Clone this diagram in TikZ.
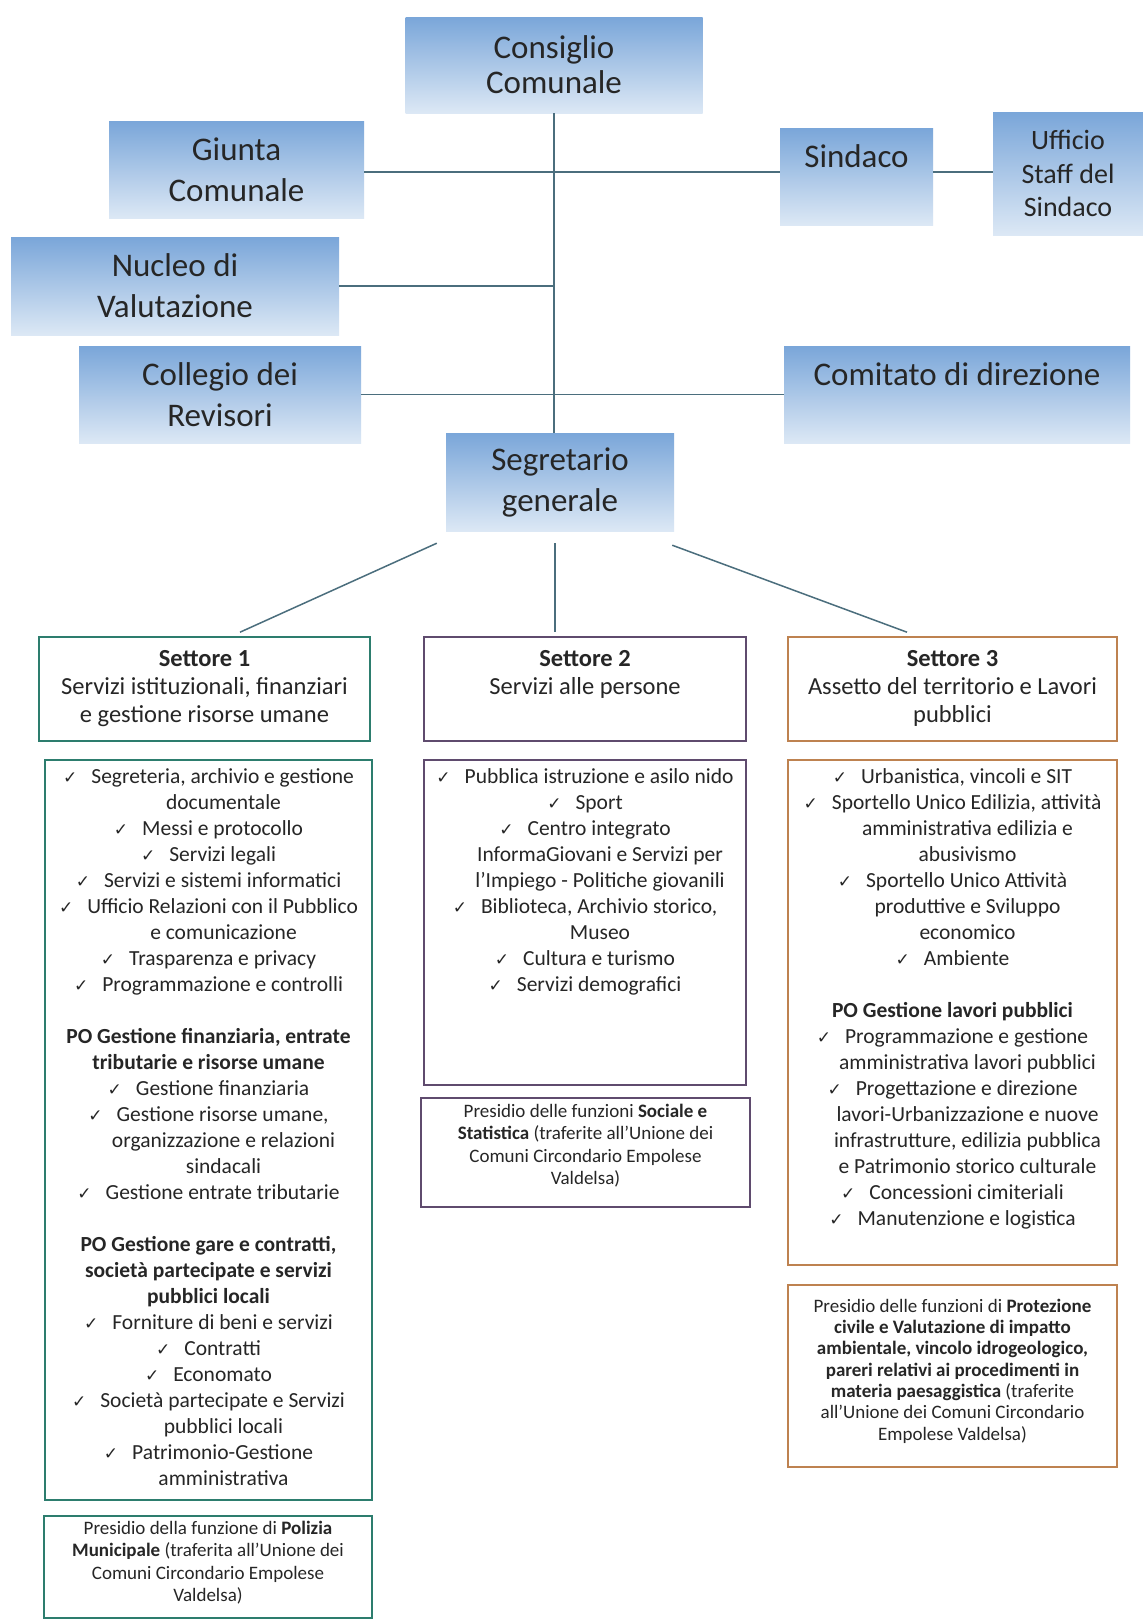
\documentclass[tikz,border=0pt]{standalone}
\usepackage{fontspec}
\setmainfont{Carlito}
\newfontfamily\checkfont{DejaVu Sans}
\usepackage{tikz}
\usetikzlibrary{positioning,calc}
\usepackage{xcolor}
\definecolor{bluTop}{RGB}{122,166,217}
\definecolor{bluBot}{RGB}{220,232,245}
\definecolor{testo}{RGB}{38,38,38}
\definecolor{verde}{RGB}{45,125,110}
\definecolor{viola}{RGB}{95,75,110}
\definecolor{arancio}{RGB}{190,130,80}
\definecolor{filo}{RGB}{75,110,125}
\newcommand{\spunta}{{\checkfont\fontsize{17}{17}\selectfont ✓}\hspace{14pt}}
\newcommand{\rientro}{\hspace*{30pt}}
\tikzstyle{vertice} = [rectangle, top color=bluTop, bottom color=bluBot, text=testo, align=center, inner sep=0pt, font=\fontsize{33}{41}\selectfont]
\tikzstyle{cornice1} = [rectangle, draw=verde, line width=1.6pt, fill=white, inner sep=0pt]
\tikzstyle{cornice2} = [rectangle, draw=viola, line width=1.6pt, fill=white, inner sep=0pt]
\tikzstyle{cornice3} = [rectangle, draw=arancio, line width=1.6pt, fill=white, inner sep=0pt]
\tikzstyle{intest} = [anchor=north, align=center, inner sep=0pt, text=testo, font=\fontsize{24.5}{28}\selectfont]
\tikzstyle{elenco} = [anchor=north, align=center, inner sep=0pt, text=testo, font=\fontsize{21.5}{26}\selectfont]
\tikzstyle{presidio} = [anchor=north, align=center, inner sep=0pt, text=testo, font=\fontsize{19}{22.5}\selectfont]
\tikzstyle{link} = [draw=filo, line width=1.5pt]

\begin{document}
\begin{tikzpicture}[x=1pt, y=-1pt]
    \fill[white] (0,0) rectangle (1143,1620);
    \useasboundingbox (0,0) rectangle (1143,1620);
    % Organi di vertice
    \node (consiglio) [vertice, minimum width=297, minimum height=96, font=\fontsize{33}{35}\selectfont] at (554,65) {Consiglio\\Comunale};
    \node (giunta) [vertice, minimum width=255, minimum height=97] at (236.5,169.5) {Giunta\\Comunale};
    \node (sindaco) [vertice, minimum width=153, minimum height=97, text height=23, text depth=42] at (856.5,176.5) {Sindaco};
    \node (staff) [vertice, minimum width=150, minimum height=123, font=\fontsize{28}{33.5}\selectfont] at (1068,173.5) {Ufficio\\Staff del\\Sindaco};
    \node (nucleo) [vertice, minimum width=328, minimum height=98] at (175,286) {Nucleo di\\Valutazione};
    \node (collegio) [vertice, minimum width=282, minimum height=97] at (220,394.5) {Collegio dei\\Revisori};
    \node (comitato) [vertice, minimum width=346, minimum height=97, text height=23, text depth=42] at (957,394.5) {Comitato di direzione};
    \node (segretario) [vertice, minimum width=228, minimum height=98] at (560,482) {Segretario\\generale};

    % Linee
    \coordinate (livello1) at (0,172);
    \draw[link] (consiglio.south) -- (consiglio.south |- segretario.north);
    \draw[link] (giunta.east |- livello1) -- (sindaco.west |- livello1);
    \draw[link] (sindaco.east |- livello1) -- (staff.west |- livello1);
    \draw[link] (nucleo.east) -- (consiglio.south |- nucleo.east);
    \draw[link] (collegio.east) -- (comitato.west);

    % Settori
    \node (settore1) [cornice1, minimum width=331, minimum height=104] at (204.5,689) {};
    \node (settore2) [cornice2, minimum width=322, minimum height=104] at (585,689) {};
    \node (settore3) [cornice3, minimum width=329, minimum height=104] at (952.5,689) {};
    \node (settore1t) [intest] at ([shift={(0,10)}]settore1.north) {\strut\textbf{Settore 1}\\Servizi istituzionali, finanziari\\e gestione risorse umane};
    \node (settore2t) [intest] at ([shift={(0,10)}]settore2.north) {\strut\textbf{Settore 2}\\Servizi alle persone};
    \node (settore3t) [intest] at ([shift={(0,10)}]settore3.north) {\strut\textbf{Settore 3}\\Assetto del territorio e Lavori\\pubblici};

    \draw[link] ([shift={(-9,12)}]segretario.south west) -- ([shift={(35.5,-4)}]settore1.north);
    \draw[link] ([shift={(-5,12)}]segretario.south) -- ([shift={(-30,-4)}]settore2.north);
    \draw[link] ([shift={(-2,14)}]segretario.south east) -- ([shift={(-45.5,-4)}]settore3.north);

    % Servizi dei settori
    \node (lista1) [cornice1, minimum width=327, minimum height=740] at (208.5,1130) {};
    \node (lista2) [cornice2, minimum width=322, minimum height=325] at (585,922.5) {};
    \node (lista3) [cornice3, minimum width=329, minimum height=505] at (952.5,1012.5) {};
    \node (lista1t) [elenco] at ([shift={(0,6)}]lista1.north) {\strut\spunta Segreteria, archivio e gestione\\
        \rientro documentale\\
        \spunta Messi e protocollo\\
        \spunta Servizi legali\\
        \spunta Servizi e sistemi informatici\\
        \spunta Ufficio Relazioni con il Pubblico\\
        \rientro e comunicazione\\
        \spunta Trasparenza e privacy\\
        \spunta Programmazione e controlli\\
        \mbox{}\\
        \textbf{PO Gestione finanziaria, entrate}\\
        \textbf{tributarie e risorse umane}\\
        \spunta Gestione finanziaria\\
        \spunta Gestione risorse umane,\\
        \rientro organizzazione e relazioni\\
        \rientro sindacali\\
        \spunta Gestione entrate tributarie\\
        \mbox{}\\
        \textbf{PO Gestione gare e contratti,}\\
        \textbf{società partecipate e servizi}\\
        \textbf{pubblici locali}\\
        \spunta Forniture di beni e servizi\\
        \spunta Contratti\\
        \spunta Economato\\
        \spunta Società partecipate e Servizi\\
        \rientro pubblici locali\\
        \spunta Patrimonio-Gestione\\
        \rientro amministrativa};
    \node (lista2t) [elenco] at ([shift={(0,6)}]lista2.north) {\strut\spunta Pubblica istruzione e asilo nido\\
        \spunta Sport\\
        \spunta Centro integrato\\
        \rientro InformaGiovani e Servizi per\\
        \rientro l’Impiego - Politiche giovanili\\
        \spunta Biblioteca, Archivio storico,\\
        \rientro Museo\\
        \spunta Cultura e turismo\\
        \spunta Servizi demografici};
    \node (lista3t) [elenco] at ([shift={(0,6)}]lista3.north) {\strut\spunta Urbanistica, vincoli e SIT\\
        \spunta Sportello Unico Edilizia, attività\\
        \rientro amministrativa edilizia e\\
        \rientro abusivismo\\
        \spunta Sportello Unico Attività\\
        \rientro produttive e Sviluppo\\
        \rientro economico\\
        \spunta Ambiente\\
        \mbox{}\\
        \textbf{PO Gestione lavori pubblici}\\
        \spunta Programmazione e gestione\\
        \rientro amministrativa lavori pubblici\\
        \spunta Progettazione e direzione\\
        \rientro lavori-Urbanizzazione e nuove\\
        \rientro infrastrutture, edilizia pubblica\\
        \rientro e Patrimonio storico culturale\\
        \spunta Concessioni cimiteriali\\
        \spunta Manutenzione e logistica};

    % Funzioni trasferite
    \node (polizia) [cornice1, minimum width=328, minimum height=102] at (208,1567) {};
    \node (sociale) [cornice2, minimum width=329, minimum height=109] at (585.5,1152.5) {};
    \node (protezione) [cornice3, minimum width=329, minimum height=182] at (952.5,1376) {};
    \node (poliziat) [presidio] at ([shift={(0,3)}]polizia.north) {\strut Presidio della funzione di \textbf{Polizia}\\\textbf{Municipale} (traferita all’Unione dei\\Comuni Circondario Empolese\\Valdelsa)};
    \node (socialet) [presidio] at ([shift={(0,4)}]sociale.north) {\strut Presidio delle funzioni \textbf{Sociale e}\\\textbf{Statistica} (traferite all’Unione dei\\Comuni Circondario Empolese\\Valdelsa)};
    \node (protezionet) [presidio, font=\fontsize{19}{21.3}\selectfont] at ([shift={(0,13)}]protezione.north) {\strut Presidio delle funzioni di \textbf{Protezione}\\\textbf{civile e Valutazione di impatto}\\\textbf{ambientale, vincolo idrogeologico,}\\\textbf{pareri relativi ai procedimenti in}\\\textbf{materia paesaggistica} (traferite\\all’Unione dei Comuni Circondario\\Empolese Valdelsa)};
\end{tikzpicture}
\end{document}
